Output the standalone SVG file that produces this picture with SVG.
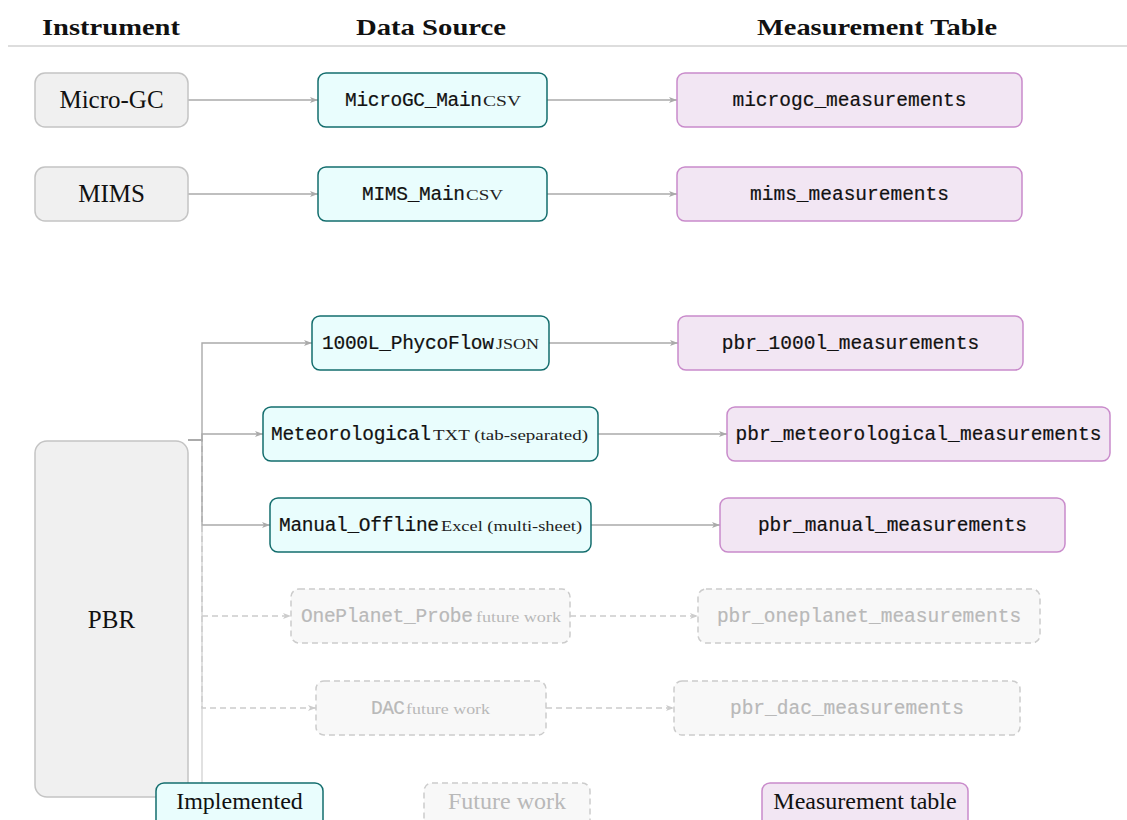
<svg xmlns="http://www.w3.org/2000/svg" width="1127" height="820" viewBox="0 0 1127 820">
  <style>
    .hdr { font-family: "Liberation Serif", serif; font-weight: bold; font-size: 23px; fill: #111; text-anchor: middle; }
    .inst rect { fill: #f0f0f0; stroke: #c4c4c4; stroke-width: 1.5; }
    .src rect { fill: #e9fdfd; stroke: #136d6d; stroke-width: 1.5; }
    .tbl rect { fill: #f2e6f3; stroke: #c98bcb; stroke-width: 1.5; }
    .fut rect { fill: #f8f8f8; stroke: #cccccc; stroke-width: 1.5; stroke-dasharray: 6 4; }
    .serif { font-family: "Liberation Serif", serif; font-size: 25px; fill: #111; text-anchor: middle; }
    .mono { font-family: "Liberation Mono", monospace; font-size: 19.5px; fill: #111; stroke: #111; stroke-width: 0.2; }
    .mid { text-anchor: middle; }
    .small { font-family: "Liberation Serif", serif; font-size: 15px; fill: #222; }
    .fut .small, .fut .serif { fill: #b9b9b9; }
    .fut .mono { fill: #b9b9b9; stroke: #b9b9b9; }
    .edge { fill: none; stroke: #aaaaaa; stroke-width: 1.4; }
    .edge.dash { stroke: #cccccc; stroke-dasharray: 6 4; }
    .edge.faint { stroke: #d4d4d4; }
  </style>
  <defs>
    <marker id="arr" viewBox="0 0 8 6" refX="8" refY="3" markerWidth="8" markerHeight="6" markerUnits="userSpaceOnUse" orient="auto">
      <path d="M0,0 L8,3 L0,6 L2,3 z" fill="#aaaaaa"/>
    </marker>
    <marker id="arr-d" viewBox="0 0 8 6" refX="8" refY="3" markerWidth="8" markerHeight="6" markerUnits="userSpaceOnUse" orient="auto">
      <path d="M0,0 L8,3 L0,6 L2,3 z" fill="#cccccc"/>
    </marker>
  </defs>

  <rect width="1127" height="820" fill="#ffffff"/>

  <!-- column headers -->
  <g id="headers">
    <text class="hdr" x="111" y="35" textLength="138" lengthAdjust="spacingAndGlyphs">Instrument</text>
    <text class="hdr" x="431" y="35" textLength="150" lengthAdjust="spacingAndGlyphs">Data Source</text>
    <text class="hdr" x="877" y="35" textLength="240" lengthAdjust="spacingAndGlyphs">Measurement Table</text>
    <line x1="8" y1="46" x2="1127" y2="46" stroke="#d2d2d2" stroke-width="1.5"/>
  </g>

  <!-- connectors -->
  <g id="connectors">
    <path class="edge faint" d="M202,525 V783"/>
    <path class="edge" d="M188,100 H318" marker-end="url(#arr)"/>
    <path class="edge" d="M547,100 H677" marker-end="url(#arr)"/>
    <path class="edge" d="M188,194 H318" marker-end="url(#arr)"/>
    <path class="edge" d="M547,194 H677" marker-end="url(#arr)"/>
    <path class="edge dash" d="M188,440 H202 V616 H291" marker-end="url(#arr-d)"/>
    <path class="edge dash" d="M188,440 H202 V708 H316" marker-end="url(#arr-d)"/>
    <path class="edge" d="M188,440 H202 V343 H312" marker-end="url(#arr)"/>
    <path class="edge" d="M188,440 H202 V434 H263" marker-end="url(#arr)"/>
    <path class="edge" d="M188,440 H202 V525 H270" marker-end="url(#arr)"/>
    <path class="edge" d="M549,343 H678" marker-end="url(#arr)"/>
    <path class="edge" d="M598,434 H727" marker-end="url(#arr)"/>
    <path class="edge" d="M591,525 H720" marker-end="url(#arr)"/>
    <path class="edge dash" d="M570,616 H698" marker-end="url(#arr-d)"/>
    <path class="edge dash" d="M546,708 H674" marker-end="url(#arr-d)"/>
  </g>

  <!-- instruments -->
  <g id="inst-microgc" class="inst">
    <rect x="35" y="73" width="153" height="54" rx="10"/>
    <text class="serif" x="111.5" y="108">Micro-GC</text>
  </g>
  <g id="inst-mims" class="inst">
    <rect x="35" y="167" width="153" height="54" rx="10"/>
    <text class="serif" x="111.5" y="202">MIMS</text>
  </g>
  <g id="inst-pbr" class="inst">
    <rect x="35" y="441" width="153" height="356" rx="12"/>
    <text class="serif" x="111.5" y="628">PBR</text>
  </g>

  <!-- data sources -->
  <g id="src-microgc" class="src">
    <rect x="318" y="73" width="229" height="54" rx="8"/>
    <text class="mono" x="345" y="106" textLength="137">MicroGC_Main</text>
    <text class="small" x="483" y="106" textLength="38" lengthAdjust="spacingAndGlyphs">CSV</text>
  </g>
  <g id="src-mims" class="src">
    <rect x="318" y="167" width="229" height="54" rx="8"/>
    <text class="mono" x="362" y="200" textLength="103">MIMS_Main</text>
    <text class="small" x="466" y="200" textLength="37" lengthAdjust="spacingAndGlyphs">CSV</text>
  </g>
  <g id="src-phycoflow" class="src">
    <rect x="312" y="316" width="237" height="54" rx="8"/>
    <text class="mono" x="322" y="349" textLength="172">1000L_PhycoFlow</text>
    <text class="small" x="496" y="349" textLength="43" lengthAdjust="spacingAndGlyphs">JSON</text>
  </g>
  <g id="src-meteo" class="src">
    <rect x="263" y="407" width="335" height="54" rx="8"/>
    <text class="mono" x="271" y="440" textLength="160">Meteorological</text>
    <text class="small" x="433" y="440" textLength="155" lengthAdjust="spacingAndGlyphs">TXT (tab-separated)</text>
  </g>
  <g id="src-manual" class="src">
    <rect x="270" y="498" width="321" height="54" rx="8"/>
    <text class="mono" x="279" y="531" textLength="160">Manual_Offline</text>
    <text class="small" x="441" y="531" textLength="141" lengthAdjust="spacingAndGlyphs">Excel (multi-sheet)</text>
  </g>
  <g id="src-oneplanet" class="fut">
    <rect x="291" y="589" width="279" height="54" rx="8"/>
    <text class="mono" x="301" y="622" textLength="172">OnePlanet_Probe</text>
    <text class="small" x="476" y="622" textLength="85" lengthAdjust="spacingAndGlyphs">future work</text>
  </g>
  <g id="src-dac" class="fut">
    <rect x="316" y="681" width="230" height="54" rx="8"/>
    <text class="mono" x="371" y="714" textLength="34">DAC</text>
    <text class="small" x="406" y="714" textLength="84" lengthAdjust="spacingAndGlyphs">future work</text>
  </g>

  <!-- measurement tables -->
  <g id="tbl-microgc" class="tbl">
    <rect x="677" y="73" width="345" height="54" rx="8"/>
    <text class="mono mid" x="849.5" y="106">microgc_measurements</text>
  </g>
  <g id="tbl-mims" class="tbl">
    <rect x="677" y="167" width="345" height="54" rx="8"/>
    <text class="mono mid" x="849.5" y="200">mims_measurements</text>
  </g>
  <g id="tbl-1000l" class="tbl">
    <rect x="678" y="316" width="345" height="54" rx="8"/>
    <text class="mono mid" x="850.5" y="349">pbr_1000l_measurements</text>
  </g>
  <g id="tbl-meteo" class="tbl">
    <rect x="727" y="407" width="383" height="54" rx="8"/>
    <text class="mono mid" x="918.5" y="440" textLength="366">pbr_meteorological_measurements</text>
  </g>
  <g id="tbl-manual" class="tbl">
    <rect x="720" y="498" width="345" height="54" rx="8"/>
    <text class="mono mid" x="892.5" y="531">pbr_manual_measurements</text>
  </g>
  <g id="tbl-oneplanet" class="fut">
    <rect x="698" y="589" width="342" height="54" rx="8"/>
    <text class="mono mid" x="869" y="622">pbr_oneplanet_measurements</text>
  </g>
  <g id="tbl-dac" class="fut">
    <rect x="674" y="681" width="346" height="54" rx="8"/>
    <text class="mono mid" x="847" y="714">pbr_dac_measurements</text>
  </g>

  <!-- legend -->
  <g id="legend-implemented" class="src">
    <rect x="156" y="783" width="167" height="46" rx="8"/>
    <text class="serif" x="239.5" y="809" style="font-size:24px">Implemented</text>
  </g>
  <g id="legend-future" class="fut">
    <rect x="424" y="783" width="166" height="46" rx="8"/>
    <text class="serif" x="507" y="809" style="font-size:24px">Future work</text>
  </g>
  <g id="legend-table" class="tbl">
    <rect x="762" y="783" width="206" height="46" rx="8"/>
    <text class="serif" x="865" y="809" style="font-size:24px">Measurement table</text>
  </g>
</svg>
